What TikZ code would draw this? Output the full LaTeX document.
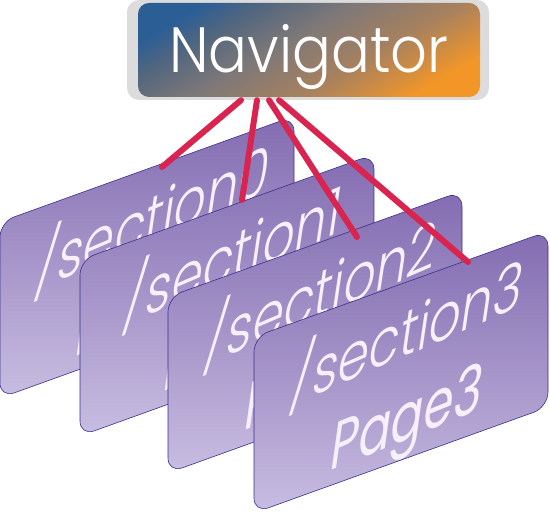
\documentclass[tikz,border=0pt]{standalone}
\usepackage{fontspec}
\usepackage{graphicx}
\setmainfont{Poppins Light}
\newfontfamily\popreg{Poppins}
\definecolor{navblue}{HTML}{2C5E96}
\definecolor{navblue2}{HTML}{52667E}
\definecolor{navmid}{HTML}{7E7878}
\definecolor{navbrown}{HTML}{A8815E}
\definecolor{navorange}{HTML}{F39628}
\definecolor{navframe}{HTML}{DCDCDC}
\definecolor{cardtop}{HTML}{836CB1}
\definecolor{cardbot}{HTML}{C8BDE1}
\definecolor{cardline}{HTML}{3B2F8C}
\definecolor{cardtext}{HTML}{F6F0FA}
\definecolor{linkred}{HTML}{DA2450}
\pgfdeclarehorizontalshading{navshade}{100bp}{color(0bp)=(navblue); color(25bp)=(navblue);
  color(33bp)=(navblue2); color(45bp)=(navmid); color(60bp)=(navbrown);
  color(75bp)=(navorange); color(100bp)=(navorange)}
\tikzset{
  cardshape/.style={draw=cardline, line width=0.6pt, rounded corners=15pt,
    top color=cardtop, bottom color=cardbot},
  cardtxt/.style={text=cardtext, font=\fontsize{50}{50}\selectfont,
    transform shape, anchor=base, inner sep=0pt},
  pagetxt/.style={cardtxt, font=\popreg\fontsize{48}{48}\selectfont},
  seclean/.style={cm={1,0.07,0.2,1.28,(0pt,0pt)}},
  pagelean/.style={cm={1,0.05,0.2,1.36,(0pt,0pt)}},
  navframebox/.style={fill=navframe, rounded corners=12pt},
  navbox/.style={rounded corners=11pt, shading=navshade, shading angle=-60,
    minimum width=342pt, minimum height=94pt,
    inner sep=0pt, text height=46pt, text depth=0pt, text=white,
    font=\fontsize{64}{64}\selectfont},
  link/.style={draw=linkred, line width=6pt, line cap=round},
}
\begin{document}
\begin{tikzpicture}[x=1pt,y=1pt]
\useasboundingbox (0,0) rectangle (550,513);
% navigator
\path[navframebox] (127,413) rectangle (489,513);
\node[navbox] (nav) at (309,463) {\scalebox{0.9}[1]{Navigator}};
% cards
\begin{scope}[cm={1,0.36,0,1,(0pt,115pt)}]
  \path[cardshape] (0,0) rectangle (294,176);
  \begin{scope}[shift={(150,102)}, seclean]\node[cardtxt] (s0) at (0,0) {/section0};\end{scope}
  \begin{scope}[shift={(150,18)}, pagelean]\node[pagetxt] (p0) at (0,0) {Page0};\end{scope}
\end{scope}
\begin{scope}[cm={1,0.36,0,1,(80pt,77pt)}]
  \path[cardshape] (0,0) rectangle (294,176);
  \begin{scope}[shift={(150,102)}, seclean]\node[cardtxt] (s1) at (0,0) {/section1};\end{scope}
  \begin{scope}[shift={(150,18)}, pagelean]\node[pagetxt] (p1) at (0,0) {Page1};\end{scope}
\end{scope}
\begin{scope}[cm={1,0.36,0,1,(168pt,40pt)}]
  \path[cardshape] (0,0) rectangle (294,176);
  \begin{scope}[shift={(150,102)}, seclean]\node[cardtxt] (s2) at (0,0) {/section2};\end{scope}
  \begin{scope}[shift={(150,18)}, pagelean]\node[pagetxt] (p2) at (0,0) {Page2};\end{scope}
\end{scope}
\begin{scope}[cm={1,0.36,0,1,(254pt,0pt)}]
  \path[cardshape] (0,0) rectangle (294,176);
  \begin{scope}[shift={(150,102)}, seclean]\node[cardtxt] (s3) at (0,0) {/section3};\end{scope}
  \begin{scope}[shift={(150,18)}, pagelean]\node[pagetxt] (p3) at (0,0) {Page3};\end{scope}
\end{scope}
% link anchors
\coordinate (n0) at ([xshift=-68pt,yshift=-3pt]nav.south);
\coordinate (n1) at ([xshift=-52pt,yshift=-3pt]nav.south);
\coordinate (n2) at ([xshift=-40pt,yshift=-3pt]nav.south);
\coordinate (n3) at ([xshift=-30pt,yshift=-3pt]nav.south);
\coordinate (t0) at (162,346);
\coordinate (t1) at (242,313);
\coordinate (t2) at (357,276);
\coordinate (t3) at (468,251);
\draw[link] (n0) -- (t0);
\draw[link] (n1) -- (t1);
\draw[link] (n2) -- (t2);
\draw[link] (n3) -- (t3);
\end{tikzpicture}
\end{document}
